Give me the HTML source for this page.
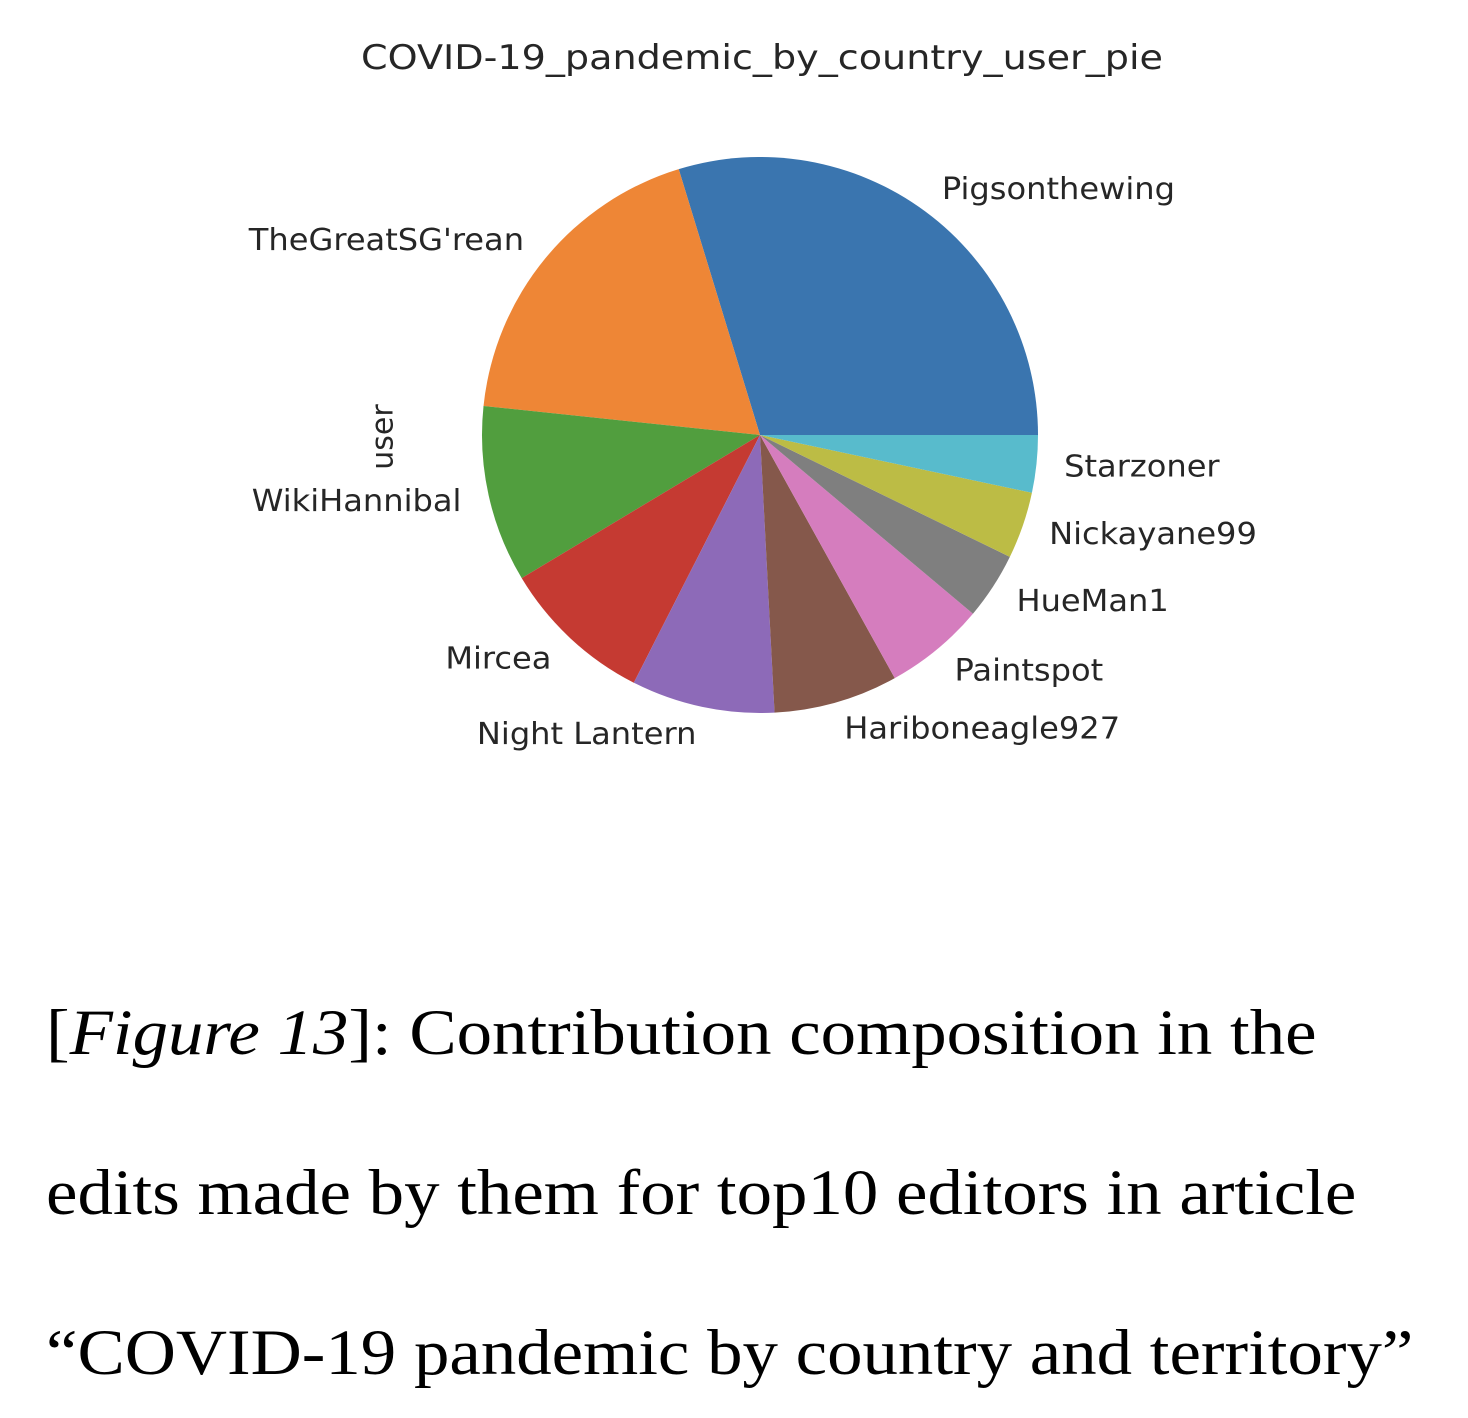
<!DOCTYPE html>
<html><head><meta charset="utf-8"><style>
html,body{margin:0;padding:0;background:#fff;width:1468px;height:1418px;overflow:hidden}
.cap{position:absolute;left:46px;font-family:"Liberation Serif",serif;font-size:65px;color:#000;white-space:nowrap;transform:scaleX(1.09);transform-origin:left top}
</style></head><body>
<svg id="chart" width="1468" height="800" style="position:absolute;left:0;top:0" font-family="DejaVu Sans, Liberation Sans, sans-serif">
<text x="361" y="58" font-size="34" textLength="802" lengthAdjust="spacingAndGlyphs" dominant-baseline="central" fill="#262626">COVID-19_pandemic_by_country_user_pie</text>
<text transform="translate(383,437) rotate(-90)" font-size="30" text-anchor="middle" dominant-baseline="central" fill="#262626">user</text>
<g id="slices"></g><g id="labels"></g>
</svg>
<div class="cap" style="top:996px">[<i>Figure 13</i>]: Contribution composition in the</div>
<div class="cap" style="top:1156px">edits made by them for top10 editors in article</div>
<div class="cap" style="top:1316px">“COVID-19 pandemic by country and territory”</div>
<script>
const categories=["Pigsonthewing","TheGreatSG'rean","WikiHannibal","Mircea","Night Lantern","Hariboneagle927","Paintspot","HueMan1","Nickayane99","Starzoner"];
const values=[107,67,37,32,30,26,21,14,14,12];
const colors=["#3a75af","#ee8636","#519e3e","#c53a32","#8d6ab8","#85584b","#d57dbe","#7f7f7f","#bcbc45","#58bbcc"];
const cx=760,cy=435,r=278,NS="http://www.w3.org/2000/svg";
const total=values.reduce((a,b)=>a+b,0);
const sg=document.getElementById('slices'),lg=document.getElementById('labels');
let a0=0;
values.forEach((v,i)=>{
  const a1=a0+v/total*2*Math.PI;
  const x0=cx+r*Math.cos(a0),y0=cy-r*Math.sin(a0),x1=cx+r*Math.cos(a1),y1=cy-r*Math.sin(a1);
  const p=document.createElementNS(NS,'path');
  p.setAttribute('d',`M${cx},${cy}L${x0},${y0}A${r},${r} 0 ${a1-a0>Math.PI?1:0} 0 ${x1},${y1}Z`);
  p.setAttribute('fill',colors[i]);
  
  
  sg.appendChild(p);
  const am=(a0+a1)/2,lx=cx+1.1*r*Math.cos(am),ly=cy-1.1*r*Math.sin(am);
  const t=document.createElementNS(NS,'text');
  t.setAttribute('x',lx);t.setAttribute('y',ly);
  t.setAttribute('font-size','30');t.setAttribute('fill','#262626');
  t.setAttribute('dominant-baseline','central');
  t.setAttribute('text-anchor',lx>cx?'start':'end');
  t.setAttribute('transform',`translate(${lx},0) scale(1.07,1) translate(${-lx},0)`);
  t.textContent=categories[i];
  
  
  lg.appendChild(t);
  a0=a1;
});
</script>
</body></html>
